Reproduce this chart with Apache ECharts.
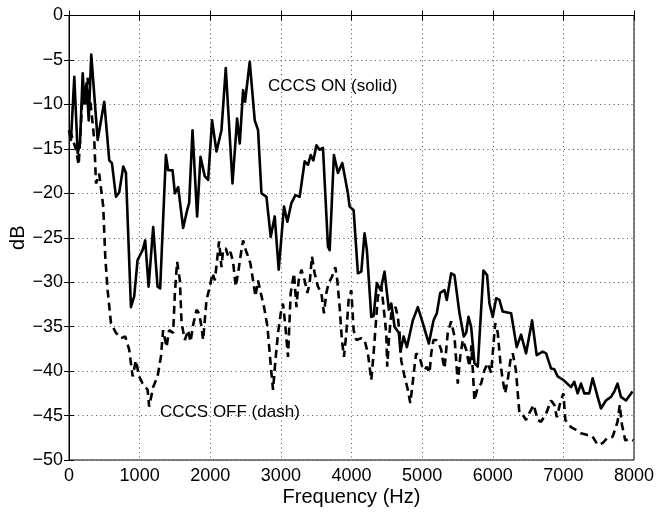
<!DOCTYPE html>
<html>
<head>
<meta charset="utf-8">
<script src="https://cdn.jsdelivr.net/npm/echarts@6/dist/echarts.min.js"></script>
<style>html,body{margin:0;padding:0;background:#fff}#c{width:659px;height:519px}</style>
</head>
<body>
<div id="c"></div>
<script>
// CCCS ON (solid) — frequency (Hz) and level (dB)
const onFreq = [0,28,75,123,156,194,216,250,279,315,406,499,570,608,665,711,768,806,877,923,971,1042,1079,1127,1192,1254,1291,1372,1404,1466,1499,1546,1616,1673,1701,1749,1814,1862,1923,1970,2026,2088,2159,2220,2315,2380,2418,2465,2493,2559,2630,2677,2725,2796,2856,2913,2969,3044,3092,3149,3206,3266,3337,3384,3422,3460,3503,3549,3596,3667,3691,3751,3808,3870,3949,3973,4030,4091,4139,4185,4218,4280,4313,4359,4412,4468,4529,4563,4610,4670,4694,4737,4784,4868,4939,5010,5095,5161,5208,5256,5317,5349,5411,5458,5529,5590,5624,5656,5694,5741,5788,5868,5920,5953,6000,6048,6094,6141,6260,6339,6401,6472,6557,6622,6707,6755,6825,6872,6919,7000,7108,7155,7202,7250,7296,7367,7414,7485,7532,7603,7674,7721,7767,7815,7886,7979];
const onDb = [-12.9,-14.0,-6.9,-15.5,-14.3,-6.5,-9.5,-7.6,-11.8,-4.4,-14.0,-9.7,-16.3,-16.6,-20.4,-19.9,-17.0,-17.7,-32.8,-31.6,-27.5,-26.4,-25.3,-30.5,-23.8,-30.5,-30.7,-15.7,-17.4,-17.4,-20.0,-19.3,-23.9,-21.9,-21.1,-12.9,-22.6,-15.9,-18.1,-18.5,-11.8,-15.3,-12.9,-5.9,-18.9,-11.6,-14.4,-8.4,-9.7,-5.2,-11.8,-12.9,-20.0,-20.4,-24.9,-22.6,-28.6,-21.5,-23.2,-21.1,-20.2,-20.4,-16.4,-16.8,-15.7,-16.3,-14.6,-15.1,-14.9,-26.0,-26.4,-15.7,-17.7,-16.6,-20.0,-21.5,-21.9,-29.0,-28.8,-24.5,-26.4,-33.9,-33.8,-30.1,-30.9,-28.8,-33.1,-32.4,-35.0,-35.7,-37.8,-36.1,-37.3,-34.3,-32.8,-34.6,-36.9,-34.3,-33.5,-31.2,-30.9,-32.0,-29.0,-29.2,-33.5,-36.1,-35.7,-33.9,-35.0,-39.1,-39.5,-28.7,-29.2,-32.4,-33.9,-31.8,-32.0,-33.3,-33.5,-37.3,-35.9,-38.0,-34.3,-38.2,-37.8,-38.0,-39.7,-39.8,-40.6,-41.0,-41.8,-41.2,-42.5,-41.4,-42.5,-42.5,-40.8,-42.9,-44.2,-43.3,-42.9,-42.3,-41.4,-42.9,-43.3,-42.3];

// CCCS OFF (dash)
const offFreq = [14,99,137,170,194,230,262,311,358,382,428,452,485,513,547,594,665,735,796,853,901,947,994,1042,1113,1135,1192,1254,1301,1333,1381,1418,1475,1499,1531,1570,1594,1640,1687,1721,1758,1806,1842,1876,1899,1947,1994,2032,2064,2097,2125,2159,2182,2220,2253,2286,2323,2361,2394,2428,2465,2503,2535,2569,2606,2640,2677,2715,2762,2810,2842,2866,2889,2923,2960,2998,3030,3064,3101,3139,3186,3220,3252,3290,3337,3375,3408,3440,3478,3525,3573,3610,3644,3676,3723,3771,3799,3832,3864,3893,3927,3959,3997,4030,4068,4139,4185,4232,4280,4313,4341,4374,4422,4444,4492,4506,4529,4563,4624,4656,4680,4704,4751,4798,4832,4860,4892,4916,4963,5001,5034,5066,5105,5129,5161,5199,5236,5270,5293,5317,5363,5411,5458,5505,5539,5576,5624,5670,5698,5741,5788,5836,5882,5929,5977,6000,6034,6071,6109,6141,6175,6212,6250,6283,6328,6377,6424,6472,6519,6580,6636,6684,6755,6825,6872,6907,6957,7000,7028,7108,7179,7250,7343,7409,7485,7555,7626,7697,7767,7798,7829,7876,7932,7989];
const offDb = [-12.9,-15.1,-16.8,-12.1,-8.4,-10.3,-7.0,-10.3,-14.0,-18.9,-17.8,-17.8,-21.5,-27.1,-30.9,-34.6,-35.7,-36.3,-36.1,-37.6,-40.6,-38.8,-40.6,-41.4,-42.1,-44.0,-41.8,-40.6,-38.4,-35.4,-37.3,-35.4,-35.7,-31.2,-27.7,-29.8,-34.6,-36.5,-35.4,-36.7,-34.8,-33.1,-33.5,-35.0,-36.5,-32.0,-30.5,-29.0,-29.8,-27.5,-25.4,-28.3,-26.4,-26.2,-27.1,-26.6,-27.7,-30.5,-29.0,-27.1,-25.3,-26.4,-27.1,-27.9,-29.8,-31.6,-29.8,-31.2,-32.8,-35.0,-38.0,-40.2,-42.1,-38.8,-35.7,-33.5,-32.4,-35.0,-38.4,-31.2,-29.0,-32.8,-29.8,-28.6,-29.8,-31.2,-30.1,-27.1,-29.0,-30.5,-31.2,-33.5,-31.2,-30.1,-29.4,-28.3,-29.8,-32.8,-36.5,-38.4,-35.7,-32.0,-30.9,-35.4,-36.5,-36.3,-36.5,-38.0,-41.0,-38.0,-35.0,-31.6,-30.5,-32.0,-35.7,-39.5,-36.5,-33.5,-32.8,-33.9,-35.7,-38.8,-40.6,-42.1,-43.6,-41.8,-39.5,-38.0,-38.4,-39.5,-39.9,-39.5,-40.2,-38.0,-36.5,-36.5,-36.9,-37.6,-38.8,-39.7,-35.7,-34.4,-36.1,-41.4,-38.4,-36.5,-37.6,-39.5,-37.1,-43.3,-41.8,-41.4,-39.9,-39.1,-40.2,-38.0,-34.6,-35.7,-39.1,-41.0,-42.5,-41.0,-38.8,-38.0,-39.9,-44.7,-44.9,-45.5,-44.7,-43.8,-45.5,-45.7,-44.8,-43.3,-43.8,-45.2,-43.5,-42.5,-45.5,-46.3,-46.6,-47.0,-47.2,-47.3,-48.3,-48.1,-47.5,-47.4,-45.7,-43.8,-46.0,-47.8,-47.6,-47.8];

const xTicks = {min: 0, max: 8000, step: 1000};
const yTicks = {min: -50, max: 0, step: 5};
const labels = {on: 'CCCS ON (solid)', off: 'CCCS OFF (dash)', x: 'Frequency (Hz)', y: 'dB'};

const FONT = '"Liberation Sans", Arial, Helvetica, sans-serif';
const chart = echarts.init(document.getElementById('c'), null, {renderer: 'canvas'});
const pair = (xs, ys) => xs.map((x, i) => [x, ys[i]]);
const fmtNum = v => (v < 0 ? '\u2212' + Math.abs(v) : String(v));

const gridLine = {show: true, lineStyle: {color: '#555', type: [1, 3.5], width: 1}};
const baseX = {
  type: 'value', min: xTicks.min, max: xTicks.max, interval: xTicks.step,
  axisLine: {show: true, lineStyle: {color: '#000', width: 1}},
  axisTick: {show: true, inside: true, length: 5, lineStyle: {color: '#000'}}
};
const baseY = {
  type: 'value', min: yTicks.min, max: yTicks.max, interval: yTicks.step,
  axisLine: {show: true, lineStyle: {color: '#000', width: 1}},
  axisTick: {show: true, inside: true, length: 5, lineStyle: {color: '#000'}}
};

chart.setOption({
  animation: false,
  backgroundColor: '#fff',
  grid: {left: 69, right: 25, top: 15.5, bottom: 59, show: true, borderColor: '#000', borderWidth: 1,
         containLabel: false, outerBoundsMode: 'none'},
  xAxis: [
    Object.assign({}, baseX, {
      position: 'bottom',
      name: labels.x, nameLocation: 'middle', nameGap: 27, nameMoveOverlap: false,
      nameTextStyle: {fontFamily: FONT, fontSize: 20, color: '#000'},
      axisLabel: {fontFamily: FONT, fontSize: 18, color: '#000', margin: 7, formatter: fmtNum},
      splitLine: gridLine
    }),
    Object.assign({}, baseX, {position: 'top', axisLabel: {show: false}, splitLine: {show: false}})
  ],
  yAxis: [
    Object.assign({}, baseY, {
      position: 'left',
      name: labels.y, nameLocation: 'middle', nameGap: 41, nameRotate: 90, nameMoveOverlap: false,
      nameTextStyle: {fontFamily: FONT, fontSize: 20, color: '#000'},
      axisLabel: {fontFamily: FONT, fontSize: 18, color: '#000', margin: 6, formatter: fmtNum},
      splitLine: gridLine
    }),
    Object.assign({}, baseY, {position: 'right', axisLabel: {show: false}, splitLine: {show: false}})
  ],
  series: [
    {
      name: labels.on, type: 'line', data: pair(onFreq, onDb), showSymbol: false, symbol: 'none',
      lineStyle: {color: '#000', width: 2.6, type: 'solid', join: 'round'}, z: 3
    },
    {
      name: labels.off, type: 'line', data: pair(offFreq, offDb), showSymbol: false, symbol: 'none',
      lineStyle: {color: '#000', width: 2.6, type: [8, 5]}, z: 2
    }
  ],
  graphic: [
    {type: 'text', left: 268, top: 78, style: {text: labels.on, font: '17px ' + FONT, fill: '#000'}},
    {type: 'text', left: 160, top: 404, style: {text: labels.off, font: '17px ' + FONT, fill: '#000'}}
  ]
});
</script>
</body>
</html>
